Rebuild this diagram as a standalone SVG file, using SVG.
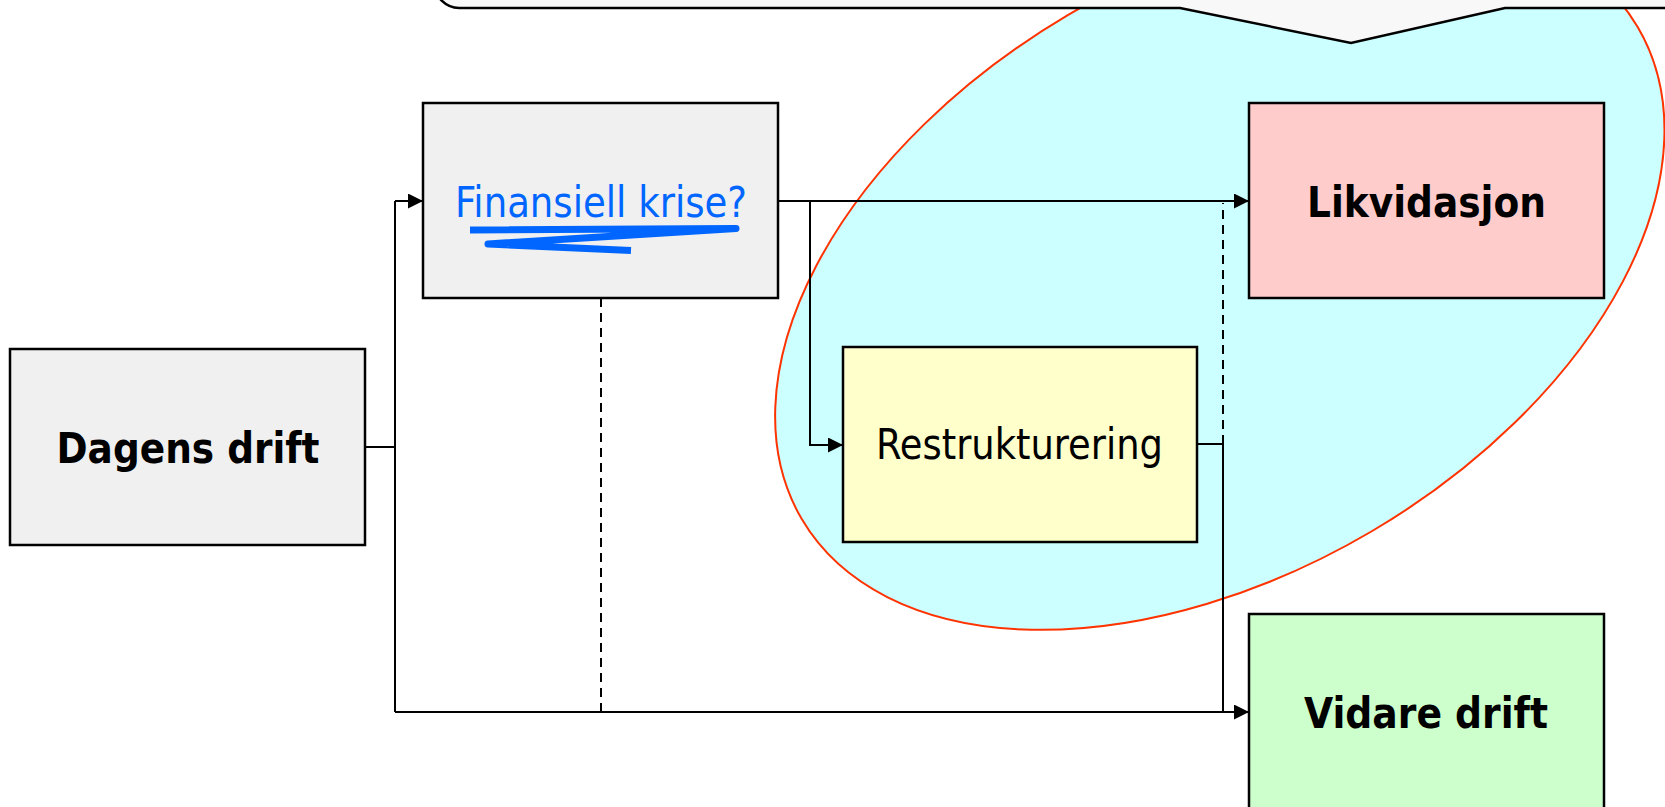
<svg xmlns="http://www.w3.org/2000/svg" width="1665" height="807" viewBox="0 0 1665 807">
  <defs>
    <marker id="arrow" markerUnits="userSpaceOnUse" markerWidth="16" markerHeight="16" refX="15" refY="7.5" orient="auto">
      <path d="M0,0 L15,7.5 L0,15 Z" fill="#000"/>
    </marker>
    <style>
      .box { stroke: #000; stroke-width: 2.5; }
      .lbl { font-family: "DejaVu Sans Condensed", "DejaVu Sans", "Liberation Sans", sans-serif; font-size: 42px; text-anchor: middle; }
      .bold { font-weight: bold; fill: #000; }
      .conn { fill: none; stroke: #000; stroke-width: 2; }
      .dash { fill: none; stroke: #000; stroke-width: 2; stroke-dasharray: 9 6; }
    </style>
  </defs>

  <rect x="0" y="0" width="1665" height="807" fill="#fff"/>

  <!-- highlighted region -->
  <g id="region">
    <ellipse cx="1219.8" cy="273.2" rx="485" ry="299.5" transform="rotate(-30.5 1219.8 273.2)" fill="#ccffff" stroke="#ff3300" stroke-width="2"/>
  </g>

  <!-- connectors -->
  <g id="connectors">
    <path class="conn" d="M365,447 H395"/>
    <path class="conn" d="M395,201 V712"/>
    <path class="conn" d="M395,201 H423" marker-end="url(#arrow)"/>
    <path class="conn" d="M778,201 H1249" marker-end="url(#arrow)"/>
    <path class="conn" d="M810,201 V445 H843" marker-end="url(#arrow)"/>
    <path class="conn" d="M1197,444 H1223 V712"/>
    <path class="dash" d="M1223,444 V203"/>
    <path class="conn" d="M395,712 H1249" marker-end="url(#arrow)"/>
    <path class="dash" d="M601,298 V712 H1223"/>
  </g>

  <!-- nodes -->
  <g id="dagens-drift">
    <rect class="box" x="10" y="349" width="355" height="196" fill="#f0f0f0"/>
    <text class="lbl bold" x="188" y="463" textLength="263" lengthAdjust="spacingAndGlyphs">Dagens drift</text>
  </g>

  <g id="finansiell-krise">
    <rect class="box" x="423" y="103" width="355" height="195" fill="#f0f0f0"/>
    <text class="lbl" x="601" y="217" fill="#0066ff" textLength="292" lengthAdjust="spacingAndGlyphs">Finansiell krise?</text>
    <polyline points="470,230 736,228.5 488,244 631,250.5" fill="none" stroke="#0066ff" stroke-width="7" stroke-linejoin="round" stroke-linecap="butt"/>
  </g>

  <g id="restrukturering">
    <rect class="box" x="843" y="347" width="354" height="195" fill="#ffffcc"/>
    <text class="lbl" x="1019.5" y="459" fill="#000" textLength="287" lengthAdjust="spacingAndGlyphs">Restrukturering</text>
  </g>

  <g id="likvidasjon">
    <rect class="box" x="1249" y="103" width="355" height="195" fill="#ffcccc"/>
    <text class="lbl bold" x="1426.5" y="217" textLength="239" lengthAdjust="spacingAndGlyphs">Likvidasjon</text>
  </g>

  <g id="vidare-drift">
    <rect class="box" x="1249" y="614" width="355" height="200" fill="#ccffcc"/>
    <text class="lbl bold" x="1426" y="728" textLength="244" lengthAdjust="spacingAndGlyphs">Vidare drift</text>
  </g>

  <!-- callout at the top edge -->
  <g id="callout">
    <path d="M435,-60 V-16 A24,24 0 0 0 459,8 H1180 L1351,43 L1505,8 H1700 V-60 Z" fill="#f8f8f8" stroke="#000" stroke-width="2.5" stroke-linejoin="miter"/>
  </g>
</svg>
